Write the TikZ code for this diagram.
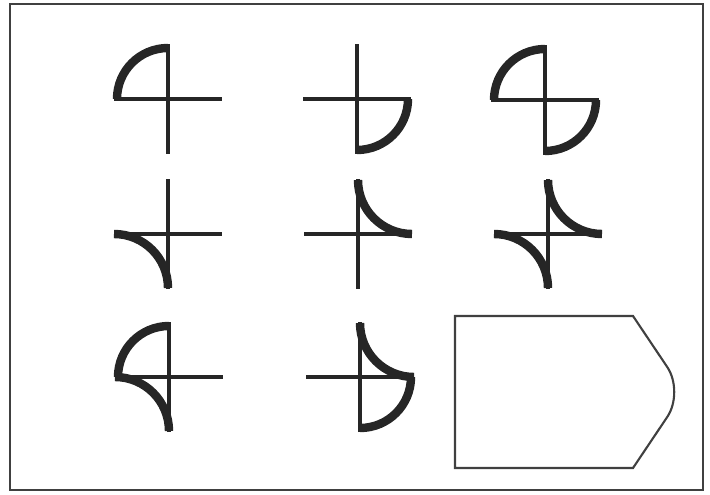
\documentclass[tikz,border=0pt]{standalone}
\begin{document}
\begin{tikzpicture}[x=0.02cm,y=0.02cm,
	arm/.style={line width=2.1pt,color=black!85},
	bow/.style={line width=4.8pt,color=black!85},
	frame/.style={line width=1.2pt,color=black!75}]
	\useasboundingbox (0,0) rectangle (710,494);
	\draw[frame] (10,4) rectangle (703,490);

	% centres of the crosses
	\coordinate (c1) at (168,395);
	\coordinate (c2) at (357,395);
	\coordinate (c3) at (545,394);
	\coordinate (c4) at (168,260);
	\coordinate (c5) at (358,260);
	\coordinate (c6) at (548,260);
	\coordinate (c7) at (169,117);
	\coordinate (c8) at (360,117);

	\foreach \c in {c1,c2,c3,c4,c5,c6,c7,c8}{
		\draw[arm] (\c) ++(-54,0) -- ++(108,0);
		\draw[arm] (\c) ++(0,-55) -- ++(0,110);
	}

	% first row
	\draw[bow] (c1) ++(-51,0) arc[start angle=180,end angle=90,radius=51];
	\draw[bow] (c2) ++(51,0) arc[start angle=0,end angle=-90,radius=51];
	\draw[bow] (c3) ++(-51,0) arc[start angle=180,end angle=90,radius=51];
	\draw[bow] (c3) ++(51,0) arc[start angle=0,end angle=-90,radius=51];

	% second row
	\draw[bow] (c4) ++(-54,0) arc[start angle=90,end angle=0,radius=54];
	\draw[bow] (c5) ++(0,54) arc[start angle=180,end angle=270,radius=54];
	\draw[bow] (c6) ++(-54,0) arc[start angle=90,end angle=0,radius=54];
	\draw[bow] (c6) ++(0,54) arc[start angle=180,end angle=270,radius=54];

	% third row
	\draw[bow] (c7) ++(-51,0) arc[start angle=180,end angle=90,radius=51];
	\draw[bow] (c7) ++(-54,0) arc[start angle=90,end angle=0,radius=54];
	\draw[bow] (c8) ++(0,54) arc[start angle=180,end angle=270,radius=54];
	\draw[bow] (c8) ++(51,0) arc[start angle=0,end angle=-90,radius=51];

	% answer box
	\draw[frame] (455,178) -- (633,178) [rounded corners=0.6cm] -- (684,102)
		[sharp corners] -- (633,26) -- (455,26) -- cycle;
\end{tikzpicture}
\end{document}
